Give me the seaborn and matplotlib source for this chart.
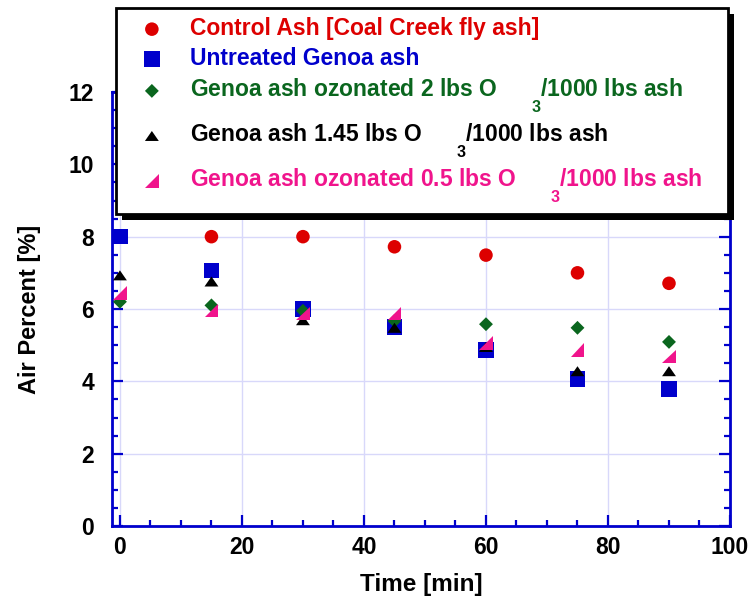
import numpy as np
import pandas as pd
import matplotlib
matplotlib.use("Agg")
import matplotlib.pyplot as plt
from matplotlib.path import Path
from matplotlib.ticker import MultipleLocator
from matplotlib.patches import Rectangle
import seaborn as sns

# ---- data ----
time = [0, 15, 30, 45, 60, 75, 90]
control_ash = [8.0, 8.0, 8.0, 7.72, 7.49, 7.0, 6.71]
untreated_genoa = [8.0, 7.07, 6.0, 5.5, 4.86, 4.07, 3.79]
genoa_oz_2 = [6.2, 6.1, 5.95, 5.67, 5.58, 5.48, 5.09]
genoa_oz_145 = [6.93, 6.76, 5.69, 5.48, 4.95, 4.28, 4.28]
genoa_oz_05 = [6.44, 5.96, 5.88, 5.88, 5.06, 4.86, 4.69]

SUB3 = r"$\quad\;\;\,\underset{3}{\ }$"
labels = [
    "Control Ash [Coal Creek fly ash]",
    "Untreated Genoa ash",
    "Genoa ash ozonated 2 lbs O" + SUB3 + "/1000 lbs ash",
    "Genoa ash 1.45 lbs O" + SUB3 + "/1000 lbs ash",
    "Genoa ash ozonated 0.5 lbs O" + SUB3 + "/1000 lbs ash",
]
x_ticks = [0, 20, 40, 60, 80, 100]
y_ticks = [0, 2, 4, 6, 8, 10, 12]

colors = ["#dd0000", "#0000cc", "#0a661e", "#000000", "#f0148c"]

tri_black = Path([(-1, -0.72), (1, -0.72), (0, 0.72), (-1, -0.72)],
                 [Path.MOVETO, Path.LINETO, Path.LINETO, Path.CLOSEPOLY])
tri_pink = Path([(-1, -1), (1, -1), (1, 1), (-1, -1)],
                [Path.MOVETO, Path.LINETO, Path.LINETO, Path.CLOSEPOLY])
markers = ["o", "s", "D", tri_black, tri_pink]
sizes = [95, 125, 50, 100, 95]

series = [control_ash, untreated_genoa, genoa_oz_2, genoa_oz_145, genoa_oz_05]

plt.rcParams["font.family"] = ["Liberation Sans", "DejaVu Sans"]
plt.rcParams["font.weight"] = "bold"
plt.rcParams["mathtext.fontset"] = "custom"
plt.rcParams["mathtext.rm"] = "Liberation Sans:bold"
plt.rcParams["mathtext.bf"] = "Liberation Sans:bold"
plt.rcParams["mathtext.it"] = "Liberation Sans:bold"
plt.rcParams["mathtext.default"] = "bf"

fig = plt.figure(figsize=(7.52, 5.99), dpi=100)
ax = fig.add_axes([112 / 752, 1 - 526 / 599, (730 - 112) / 752, (526 - 92) / 599])

for vals, col, mk, sz, lab in zip(series, colors, markers, sizes, labels):
    sns.scatterplot(x=time, y=vals, color=col, marker=mk, s=sz, linewidth=0,
                    edgecolor="none", label=lab, ax=ax, zorder=3)

if ax.get_legend() is not None:
    ax.get_legend().remove()

blue = "#0000cc"
ax.set_xlim(-1.3, 100)
ax.set_ylim(0, 12)
ax.set_xticks(x_ticks)
ax.set_yticks(y_ticks)
ax.xaxis.set_minor_locator(MultipleLocator(5))
ax.yaxis.set_minor_locator(MultipleLocator(0.5))
ax.tick_params(which="both", direction="in", color=blue, width=1.6,
               right=True, top=True, labelsize=16.5)
ax.tick_params(which="major", length=8)
ax.tick_params(which="minor", length=4)
ax.tick_params(axis="x", pad=7)
ax.tick_params(axis="y", pad=13)
for lab in ax.get_xticklabels() + ax.get_yticklabels():
    lab.set_fontweight("bold")
for sp in ax.spines.values():
    sp.set_color(blue)
    sp.set_linewidth(2)
ax.grid(True, which="major", color="#d8d8fa", linewidth=1)
ax.set_axisbelow(True)
ax.set_xlabel("Time [min]", fontsize=17.5, fontweight="bold", labelpad=10)
ax.set_ylabel("Air Percent [%]", fontsize=17, fontweight="bold", labelpad=20)

handles, labs = ax.get_legend_handles_labels()
leg = fig.legend(handles, labs, loc="upper left",
                 bbox_to_anchor=(116 / 752, 1 - 8 / 599, 612 / 752, 0.0),
                 mode="expand", borderaxespad=0, fontsize=16.5,
                 frameon=True, fancybox=False, framealpha=1,
                 edgecolor="black", borderpad=0.4, labelspacing=0.3,
                 handlelength=2.33, handletextpad=0.49)
leg.get_frame().set_linewidth(2)
for t, c in zip(leg.get_texts(), colors):
    t.set_color(c)
    t.set_fontweight("bold")

fig.canvas.draw()
bb = leg.get_frame().get_window_extent().transformed(fig.transFigure.inverted())
dx, dy = 6 / 752, 6 / 599
fig.add_artist(Rectangle((bb.x0 + dx, bb.y0 - dy), bb.width, bb.height,
                         transform=fig.transFigure, facecolor="black",
                         edgecolor="none", zorder=4))

fig.savefig("out.png", dpi=100)
